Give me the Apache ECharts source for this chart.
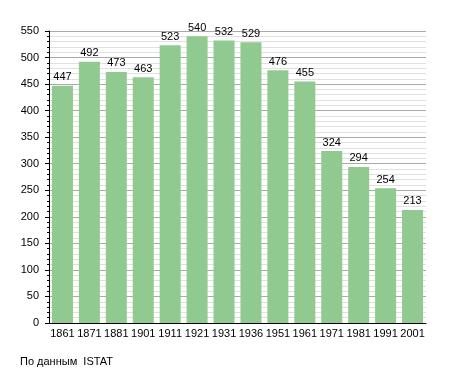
<!DOCTYPE html>
<html><head><meta charset="utf-8">
<script src="https://cdn.jsdelivr.net/npm/echarts@6/dist/echarts.min.js"></script>
<style>html,body{margin:0;padding:0;background:#fff}#c{width:455px;height:373px}</style>
</head><body><div id="c"></div>
<script>
const years = ['1861','1871','1881','1901','1911','1921','1931','1936','1951','1961','1971','1981','1991','2001'];
const population = [447,492,473,463,523,540,532,529,476,455,324,294,254,213];
const footer = 'По данным  ISTAT';
const chart = echarts.init(document.getElementById('c'), null, {renderer:'canvas'});
const font = 'Liberation Sans, Arial, sans-serif';
chart.setOption({
  animation:false,
  grid:{left:49,right:29,top:31,bottom:50,containLabel:false},
  xAxis:{type:'category',data:years,
    axisLine:{lineStyle:{color:'#000',width:1}},
    axisTick:{show:false},
    axisLabel:{color:'#000',fontSize:11,fontFamily:font,margin:5,interval:0}},
  yAxis:{type:'value',min:0,max:550,interval:50,
    axisLine:{show:true,lineStyle:{color:'#000'}},
    axisTick:{show:true,length:4,lineStyle:{color:'#000'}},
    minorTick:{show:true,splitNumber:5,length:2,lineStyle:{color:'#000'}},
    axisLabel:{color:'#000',fontSize:11,fontFamily:font,margin:10},
    splitLine:{show:true,lineStyle:{color:'#aaa',width:1}},
    minorSplitLine:{show:true,lineStyle:{color:'#e0e0e0',width:1}}},
  series:[{type:'bar',data:population,barCategoryGap:'22%',
    itemStyle:{color:'#90ca90'},
    label:{show:true,position:'top',color:'#000',fontSize:11,fontFamily:font,distance:3}}],
  graphic:[{type:'text',left:20,top:356,style:{text:footer,fill:'#000',font:'11px '+font}}]
});
</script></body></html>
